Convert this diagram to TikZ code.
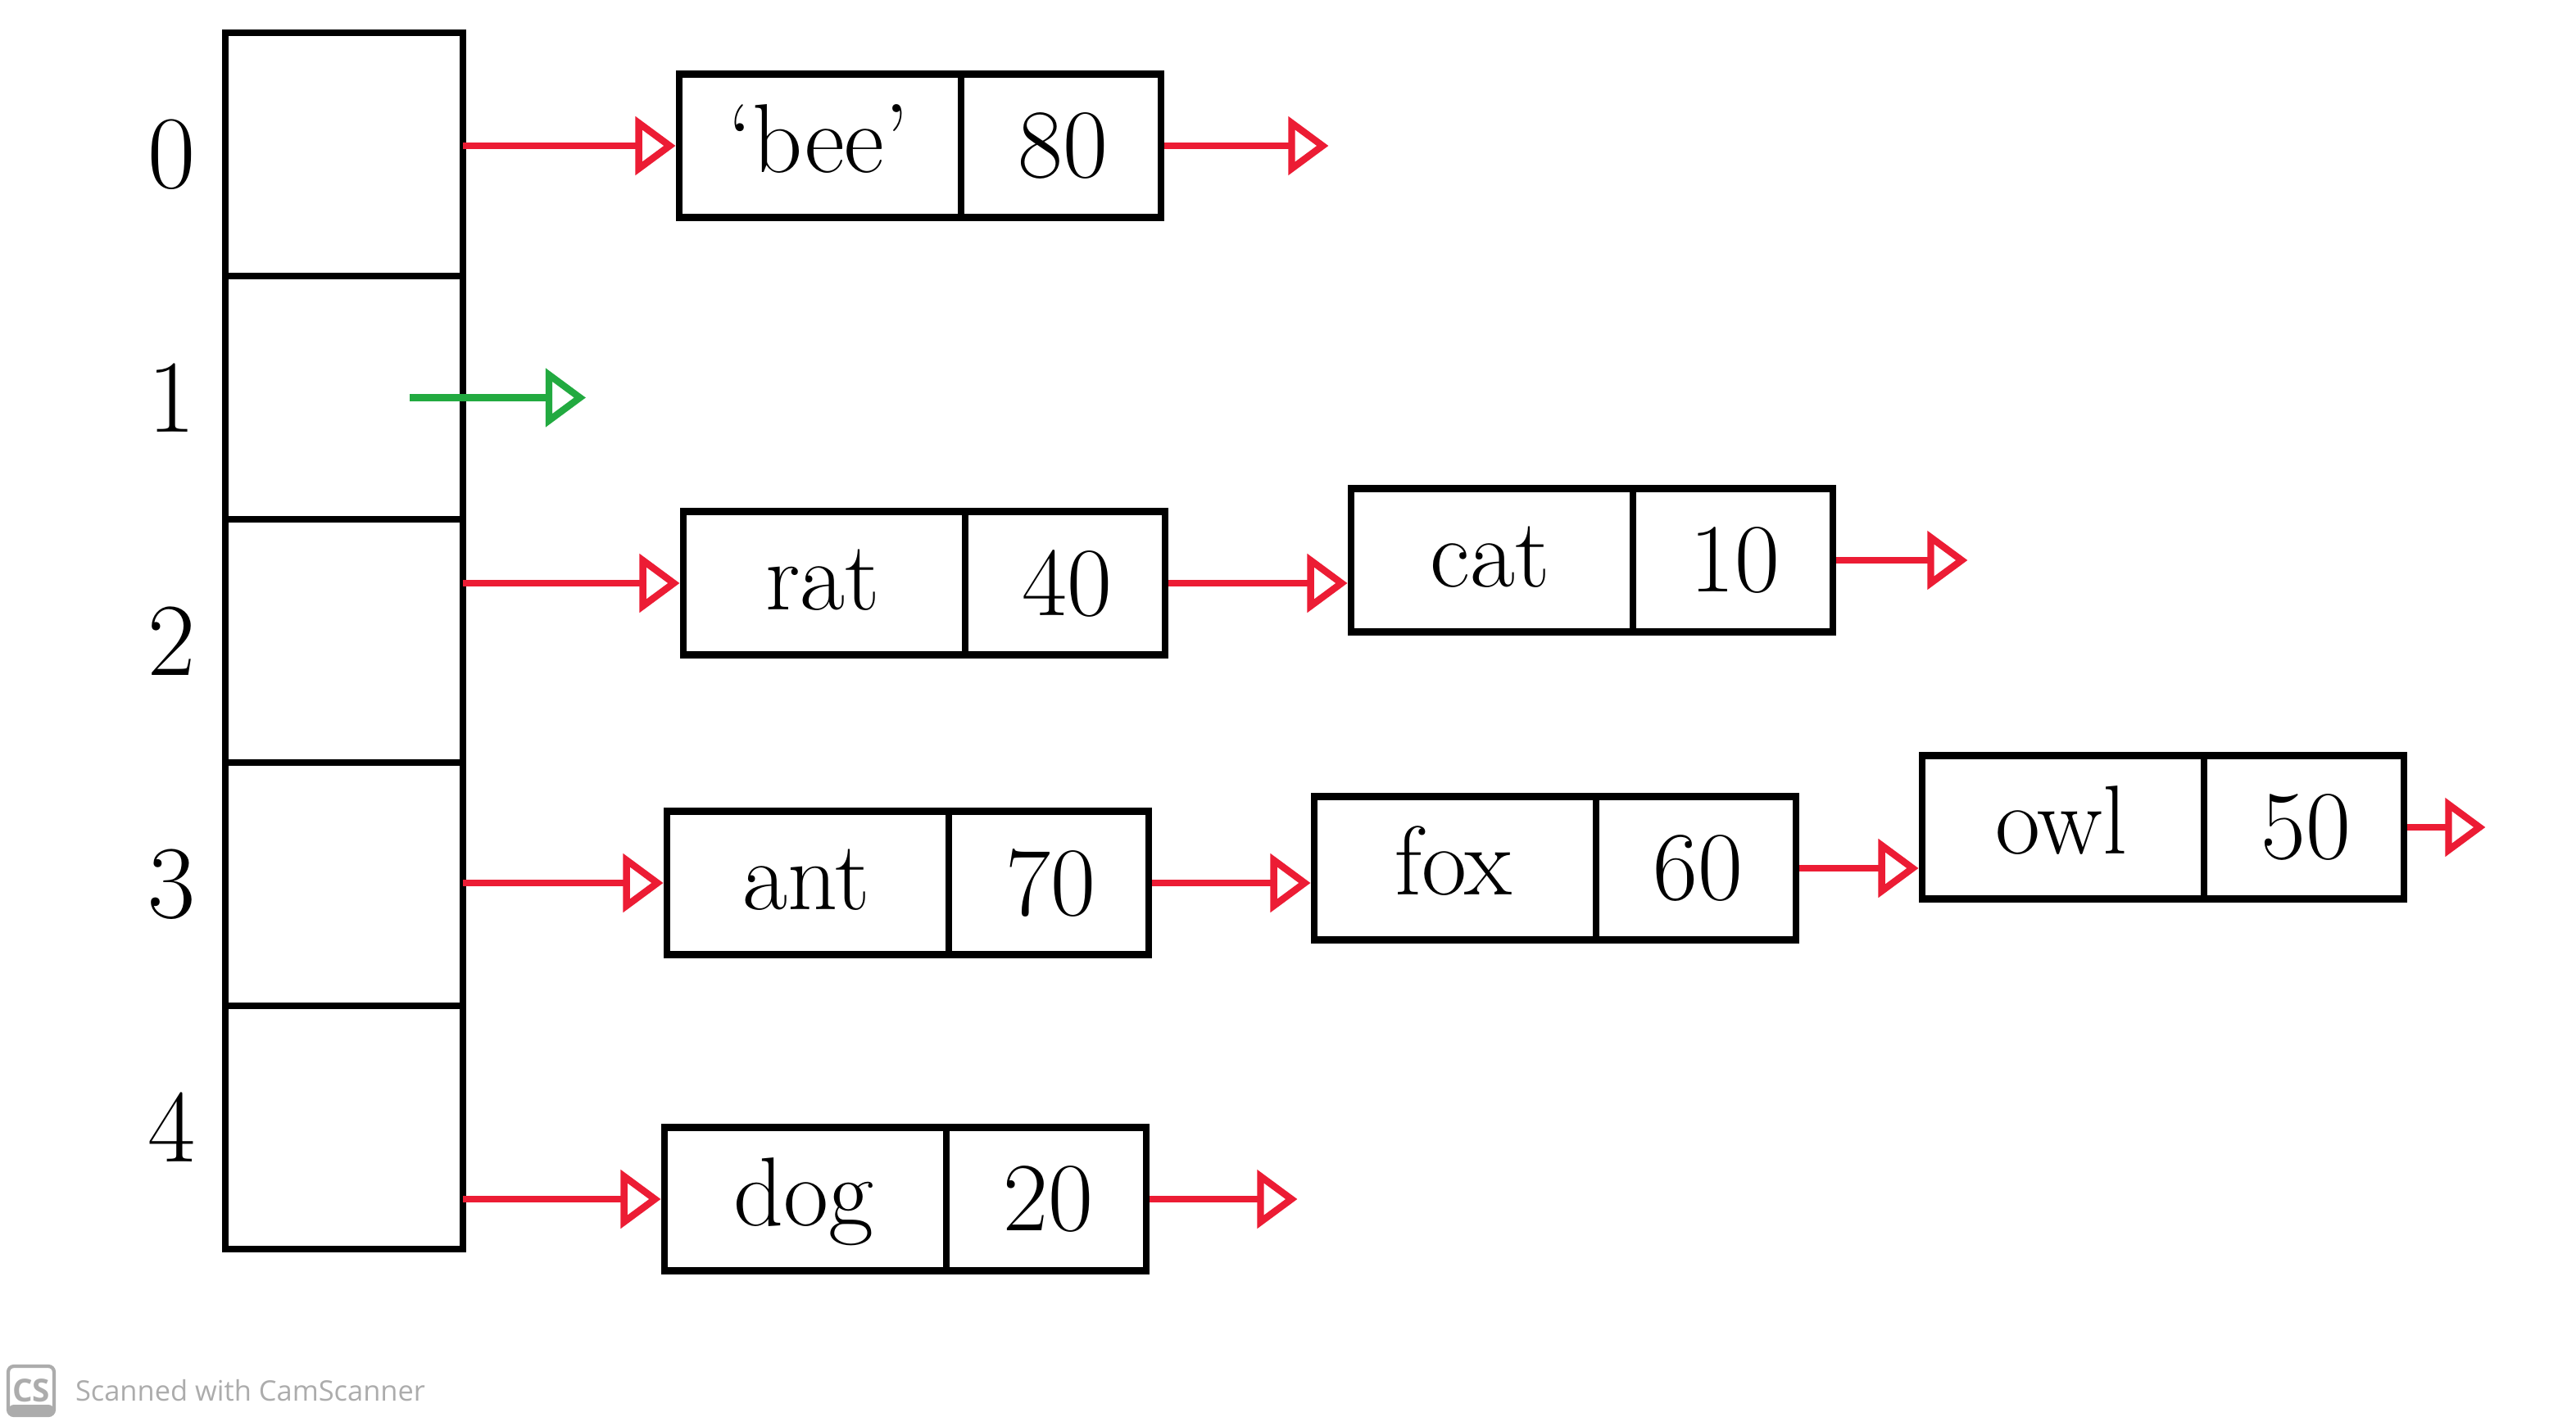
\documentclass[tikz,border=0pt]{standalone}
\usepackage{fontspec}
\newfontfamily\wmfont{Open Sans}
\usetikzlibrary{positioning, arrows.meta, shapes.multipart}
\definecolor{penred}{RGB}{236,28,52}
\definecolor{pengreen}{RGB}{34,170,64}
\definecolor{wmgray}{RGB}{172,172,172}
\tikzset{
	     cell/.style = {draw, minimum width=2.9cm, minimum height=2.97cm, outer sep=0pt},
	    index/.style = {font=\fontsize{36}{40}\selectfont},
	    entry/.style = {draw, rectangle split, rectangle split horizontal,
	                    rectangle split parts=2, inner sep=0pt,
	                    font=\fontsize{34}{40}\selectfont},
	     link/.style = {color=penred, -{Triangle[open, length=14pt, width=20pt]}},
	  nulllink/.style = {link},
	 emptylink/.style = {color=pengreen, -{Triangle[open, length=14pt, width=20pt]}},
	   wmlogo/.style = {draw=wmgray, rounded corners=2pt, line width=1.2pt,
	                    minimum width=0.56cm, minimum height=0.6cm, inner sep=0pt,
	                    text=wmgray, font=\wmfont\bfseries\fontsize{11}{12}\selectfont,
	                    path picture={\fill[wmgray] (path picture bounding box.south west)
	                      rectangle ([yshift=0.13cm]path picture bounding box.south east);}},
	   wmtext/.style = {text=wmgray, font=\wmfont\fontsize{9.8}{11}\selectfont}
}
% key | value
\newcommand\kv[2]{\makebox[3.4cm]{\rule[-0.55cm]{0pt}{1.75cm}#1}\nodepart{two}\makebox[2.4cm]{#2}}

\begin{document}
\begin{tikzpicture}[line width=2.4pt]
	\useasboundingbox (0,0) rectangle (31.44,-17.41);
	% buckets
	\node[cell] (c0) at (4.2,-1.885){};
	\node[cell, below=0pt of c0] (c1){};
	\node[cell, below=0pt of c1] (c2){};
	\node[cell, below=0pt of c2] (c3){};
	\node[cell, below=0pt of c3] (c4){};
	\node[index, left=0.2cm of c0] (i0) {0};
	\node[index, left=0.2cm of c1] (i1) {1};
	\node[index, left=0.2cm of c2] (i2) {2};
	\node[index, left=0.2cm of c3] (i3) {3};
	\node[index, left=0.2cm of c4] (i4) {4};
	% chains
	\node[entry] (bee) at (11.23, -1.78){\kv{`bee'}{80}};
	\node[entry] (rat) at (11.28, -7.12){\kv{rat}{40}};
	\node[entry] (cat) at (19.43, -6.84){\kv{cat}{10}};
	\node[entry] (ant) at (11.08,-10.78){\kv{ant}{70}};
	\node[entry] (fox) at (18.98,-10.60){\kv{fox}{60}};
	\node[entry] (owl) at (26.40,-10.10){\kv{owl}{50}};
	\node[entry] (dog) at (11.05,-14.64){\kv{dog}{20}};
	\coordinate[right=2.0cm of bee.east] (beenull);
	\coordinate[right=1.6cm of cat.east] (catnull);
	\coordinate[right=0.95cm of owl.east] (owlnull);
	\coordinate[right=1.8cm of dog.east] (dognull);
	\coordinate[right=1.5cm of c1.east] (onenull);
	\draw[link] (bee.west -| c0.east) -- (bee.west);
	\draw[link] (rat.west -| c2.east) -- (rat.west);
	\draw[link] (ant.west -| c3.east) -- (ant.west);
	\draw[link] (dog.west -| c4.east) -- (dog.west);
	\draw[link] (rat.east) -- (rat.east -| cat.west);
	\draw[link] (ant.east) -- (ant.east -| fox.west);
	\draw[link] (fox.east) -- (fox.east -| owl.west);
	\draw[nulllink] (bee.east) -- (beenull);
	\draw[nulllink] (cat.east) -- (catnull);
	\draw[nulllink] (owl.east) -- (owlnull);
	\draw[nulllink] (dog.east) -- (dognull);
	\draw[emptylink] ([xshift=-0.65cm]c1.east) -- (onenull);
	% scanner mark
	\node[wmlogo] (cs) at (0.38,-16.98){CS};
	\node[wmtext, right=0.08cm of cs] (scanned) {Scanned with CamScanner};
\end{tikzpicture}
\end{document}
